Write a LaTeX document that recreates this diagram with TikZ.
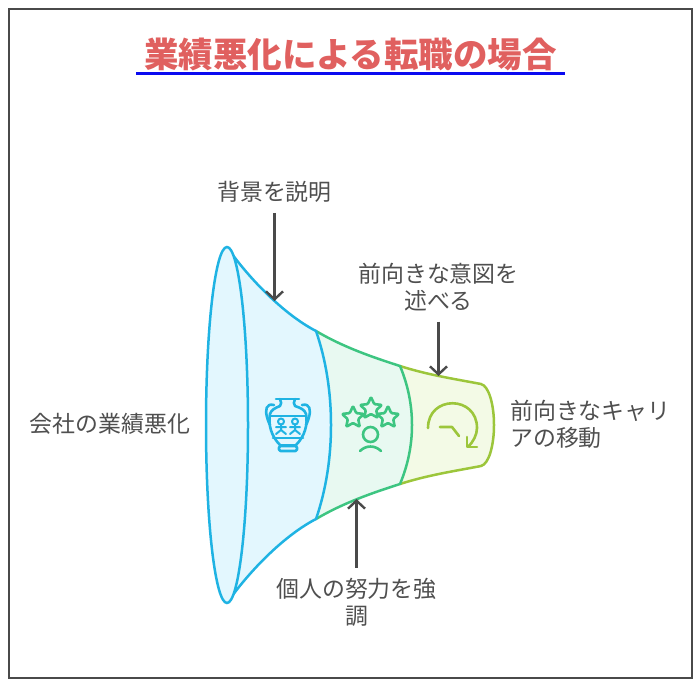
\documentclass[tikz,border=0pt]{standalone}
\usepackage{fontspec}
\setmainfont{Noto Sans CJK JP}
\usepackage{xcolor}
\usetikzlibrary{arrows.meta,positioning,shapes.geometric}
\definecolor{frameGray}{HTML}{4A4A4A}
\definecolor{labelGray}{HTML}{4F4F4F}
\definecolor{titleRed}{HTML}{E0605F}
\definecolor{lineBlue}{HTML}{0A0AF0}
\definecolor{skyStroke}{HTML}{1FB3E3}
\definecolor{skyFill}{HTML}{E3F7FE}
\definecolor{mintStroke}{HTML}{3DC581}
\definecolor{mintFill}{HTML}{E8F9F1}
\definecolor{limeStroke}{HTML}{9CC63B}
\definecolor{limeFill}{HTML}{F3FAE6}

\begin{document}
\begin{tikzpicture}[
  x=1pt,
  y=-1pt,
  >={Straight Barb[length=8pt,width=17pt]},
  label/.style={align=center, font=\fontsize{22.9}{27}\selectfont, text=labelGray, inner sep=2pt},
  arrow/.style={->, draw=frameGray, line width=2.4pt},
  skyband/.style={draw=skyStroke, fill=skyFill, line width=2.5pt, line join=round},
  mintband/.style={draw=mintStroke, fill=mintFill, line width=2.5pt, line join=round},
  limeband/.style={draw=limeStroke, fill=limeFill, line width=2.5pt, line join=round},
  skyicon/.style={draw=skyStroke, line width=2.6pt, line cap=round, line join=round},
  mintIcon/.style={draw=mintStroke, line width=2.6pt, line cap=round, line join=round},
  limeicon/.style={draw=limeStroke, line width=2.6pt, line cap=round, line join=round},
  starnode/.style={star, star points=5, star point ratio=2.1, minimum size=23pt, inner sep=0pt, rounded corners=1pt, mintIcon}
]
\useasboundingbox (0,0) rectangle (700,686);
\draw[draw=frameGray, line width=2pt] (9,9) rectangle (692,678);

% Title
\node[font=\fontsize{34.5}{40}\selectfont\bfseries, text=titleRed, inner sep=0pt] (titleText) at (350.5,54) {業績悪化による転職の場合};
\coordinate (ruleStart) at (136,73.5);
\coordinate (ruleEnd) at (565,73.5);
\draw[draw=lineBlue, line width=3pt] (ruleStart) -- (ruleEnd);

% Funnel bands
\draw[limeband] (400,366) .. controls (428,375) and (455,379) .. (481,384)
  .. controls (489,386) and (494,405) .. (494,425)
  .. controls (494,445) and (489,464) .. (481,466)
  .. controls (455,471) and (428,475) .. (400,484) -- cycle;
\draw[mintband] (316,331) .. controls (343,347) and (372,357) .. (400,366)
  .. controls (408,385) and (412,405) .. (412,425)
  .. controls (412,445) and (408,465) .. (400,484)
  .. controls (372,493) and (343,503) .. (316,519) -- cycle;
\draw[skyband] (227,247) .. controls (250,280) and (285,315) .. (316,331)
  .. controls (326,360) and (331,392) .. (331,425)
  .. controls (331,458) and (326,490) .. (316,519)
  .. controls (285,535) and (250,570) .. (227,603) -- cycle;
\draw[skyband] (227,425) ellipse [x radius=21, y radius=178];

% Vase icon
\draw[skyicon] (276,399) -- (299,399);
\draw[skyicon] (280,399) .. controls (281,402) and (282,404) .. (280,406)
  .. controls (275,408) and (271,410) .. (270,414)
  .. controls (268,424) and (271,436) .. (280,445);
\draw[skyicon] (295,399) .. controls (294,402) and (293,404) .. (295,406)
  .. controls (301,408) and (305,410) .. (306,414)
  .. controls (308,424) and (305,436) .. (296,445);
\draw[skyicon] (280,445) -- (296,445);
\draw[skyicon, rounded corners=1.5pt] (279,446) rectangle (297,451);
\draw[skyicon] (271,416) -- (305,416) (273,438) -- (303,438);
\draw[skyicon] (274,405) .. controls (266,403) and (265,410) .. (267,417) .. controls (268,421) and (269,423) .. (270,425);
\draw[skyicon] (302,405) .. controls (310,403) and (311,410) .. (309,417) .. controls (308,421) and (307,423) .. (306,425);
\draw[skyicon, line width=2pt] (281,421.5) circle [radius=3];
\draw[skyicon, line width=2pt] (281,424.5) -- (281,430) (276,427) -- (286,427) (276,434) -- (281,430) -- (286,434);
\draw[skyicon, line width=2pt] (295,421.5) circle [radius=3];
\draw[skyicon, line width=2pt] (295,424.5) -- (295,430) (290,427) -- (300,427) (290,434) -- (295,430) -- (300,434);

% Stars and person icon
\node[starnode] (starLeft) at (353,417.5) {};
\node[starnode] (starMiddle) at (371,408.5) {};
\node[starnode] (starRight) at (388,417.5) {};
\draw[mintIcon] (370.5,434.5) circle [radius=7.5];
\draw[mintIcon] (360,451) .. controls (366,445) and (375,445) .. (381,451);

% Rotation icon
\draw[limeicon] (428,428) .. controls (428,395) and (477,395) .. (477,428) .. controls (477,435) and (473,442) .. (468,447);
\draw[limeicon] (467,437) -- (467,447) -- (477,447);
\draw[limeicon] (440,427) -- (452,427) -- (459,436);

% Labels
\node[label] (companyLabel) at (110,424) {会社の業績悪化};
\node[label] (backgroundLabel) at (274.5,192) {背景を説明};
\node[label] (intentLabel) at (438.5,287.5) {前向きな意図を\\述べる};
\node[label, align=left, anchor=west] (careerLabel) at (508,424) {前向きなキャリ\\アの移動};
\node[label] (effortLabel) at (356.5,602) {個人の努力を強\\調};

% Arrows
\coordinate (backgroundTip) at (274.5,301);
\coordinate (intentTip) at (438.5,376);
\coordinate (effortTip) at (356.5,499);
\draw[arrow, shorten <=8pt] (backgroundLabel.south) -- (backgroundTip);
\draw[arrow, shorten <=8pt] (intentLabel.south) -- (intentTip);
\draw[arrow, shorten <=8pt] (effortLabel.north) -- (effortTip);

\end{tikzpicture}
\end{document}
